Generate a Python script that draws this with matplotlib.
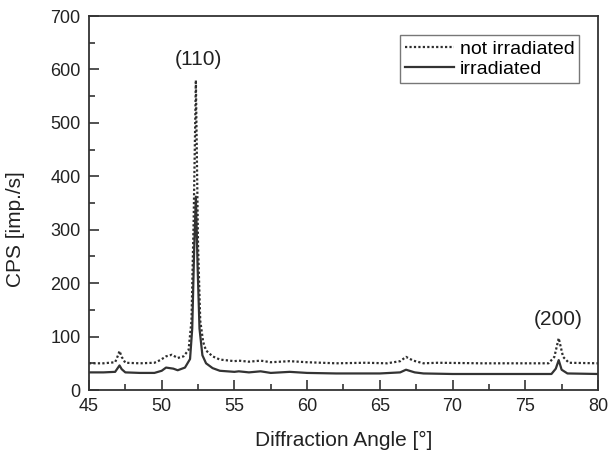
import matplotlib.pyplot as plt
from matplotlib.ticker import MultipleLocator

plt.rcParams['font.family'] = ['Liberation Sans', 'DejaVu Sans']

# not irradiated (dotted)
angle_ni = [45.0, 46.0, 46.8, 47.0, 47.1, 47.25, 47.5, 48.5, 49.5, 49.9, 50.3, 50.7, 51.1,
            51.5, 51.85, 52.05, 52.2, 52.35, 52.5, 52.65, 52.85, 53.05, 53.5, 54.0, 55.0,
            55.3, 56.0, 56.8, 57.5, 58.8, 60.0, 62.0, 64.0, 65.5, 66.4, 66.8, 67.3,
            68.0, 69.0, 72.0, 76.6, 77.0, 77.3, 77.6, 78.0, 80.0]
cps_ni = [50, 50, 52, 65, 73, 62, 51, 50, 51, 56, 63, 66, 60,
          63, 75, 130, 320, 580, 270, 130, 90, 74, 63, 57, 54,
          55, 53, 55, 52, 54, 52, 50, 51, 50, 54, 62, 55,
          50, 51, 50, 50, 62, 97, 62, 51, 50]

# irradiated (solid)
angle_ir = [45.0, 46.0, 46.8, 47.0, 47.1, 47.25, 47.5, 48.5, 49.5, 50.0, 50.3, 50.8, 51.1,
            51.6, 51.95, 52.1, 52.23, 52.35, 52.47, 52.6, 52.8, 53.05, 53.5, 54.0, 55.0,
            55.3, 56.0, 56.8, 57.5, 58.8, 60.0, 62.0, 65.0, 66.4, 66.8, 67.4,
            68.0, 70.0, 76.8, 77.1, 77.3, 77.5, 77.9, 80.0]
cps_ir = [33, 33, 34, 42, 46, 39, 33, 32, 32, 36, 42, 40, 37,
          42, 58, 115, 260, 362, 230, 115, 65, 50, 41, 36, 34,
          35, 33, 35, 32, 34, 32, 31, 31, 33, 38, 33,
          31, 30, 30, 40, 56, 38, 31, 30]

fig = plt.figure(figsize=(6.09, 4.5), dpi=100)
ax = fig.add_axes([0.1461, 0.1333, 0.8358, 0.831])

ax.plot(angle_ni, cps_ni, color='#2e2e2e', linestyle=(0, (1, 1)), linewidth=1.6,
        label='not irradiated')
ax.plot(angle_ir, cps_ir, color='#333333', linestyle='-', linewidth=1.6,
        label='irradiated')

ax.set_xlim(45, 80)
ax.set_ylim(0, 700)
ax.xaxis.set_major_locator(MultipleLocator(5))
ax.xaxis.set_minor_locator(MultipleLocator(2.5))
ax.yaxis.set_major_locator(MultipleLocator(100))
ax.yaxis.set_minor_locator(MultipleLocator(50))
ax.tick_params(which='both', direction='in', labelsize=13, colors='#222222')
ax.tick_params(which='major', length=7, width=1.1, pad=6)
ax.tick_params(which='minor', length=4.5, width=1.1)
for s in ax.spines.values():
    s.set_linewidth(1.3)
    s.set_color('#333333')

ax.set_xlabel('Diffraction Angle [°]', fontsize=15, color='#222222')
ax.set_ylabel('CPS [imp./s]', fontsize=15, color='#222222')
ax.xaxis.set_label_coords(0.5, -0.11)
ax.yaxis.set_label_coords(-0.125, 0.43)

ax.text(52.53, 619, '(110)', fontsize=15, ha='center', va='center', color='#222222')
ax.text(77.25, 132, '(200)', fontsize=15, ha='center', va='center', color='#222222')

leg = ax.legend(loc='upper right', bbox_to_anchor=(0.963, 0.949), borderaxespad=0,
                fontsize=14, fancybox=False, edgecolor='#777777', framealpha=1,
                handlelength=2.5, handletextpad=0.3, borderpad=0.25, labelspacing=0.15)
leg.get_frame().set_linewidth(1.0)

fig.savefig('out.png', dpi=100)
